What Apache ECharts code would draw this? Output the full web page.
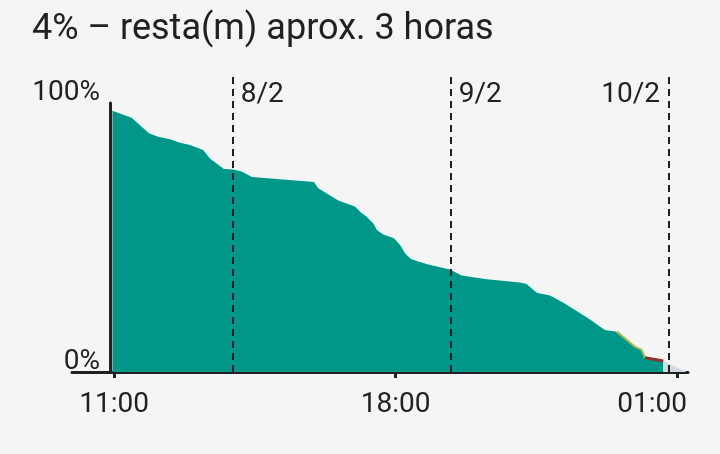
<!DOCTYPE html>
<html>
<head>
<meta charset="utf-8">
<script src="https://cdn.jsdelivr.net/npm/echarts@6/dist/echarts.min.js"></script>
<style>
html,body{margin:0;padding:0;background:#f5f5f5;}
#chart{width:720px;height:454px;}
</style>
</head>
<body>
<div id="chart"></div>
<script>
// ---- data ----
const titleText = '4% \u2013 resta(m) aprox. 3 horas';
const timeHours = [10.955, 11.433, 11.681, 11.870, 12.094, 12.385, 12.634, 12.883, 13.213, 13.380,
  13.586, 13.728, 13.959, 14.168, 14.425, 15.966, 16.073, 16.571, 16.986, 17.135,
  17.277, 17.441, 17.533, 17.690, 17.956, 18.118, 18.230, 18.379, 18.521, 18.809,
  19.349, 19.640, 20.261, 21.090, 21.256, 21.505, 21.836, 22.159, 22.482, 22.806,
  23.203, 23.494, 23.700, 23.949, 24.116, 24.198, 24.653];
const batteryPct = [97.1, 94.5, 91.2, 88.7, 87.5, 86.5, 85.2, 84.4, 82.5, 79.4,
  77.0, 75.5, 75.3, 74.5, 72.5, 70.6, 68.3, 63.8, 61.5, 59.3,
  57.7, 55.3, 52.8, 51.1, 49.7, 47.0, 44.1, 42.0, 41.3, 40.0,
  38.1, 35.9, 34.5, 33.3, 32.7, 29.5, 28.4, 25.8, 22.9, 19.8,
  15.6, 15.0, 12.5, 9.4, 8.2, 5.3, 4.1];
const projectionHours = [24.653, 25.24];
const projectionPct = [4.1, 0];
const lowThreshold = 15;
const criticalThreshold = 5.5;
const dateLineHours = [13.952, 19.374, 24.796];
const dateLabels = ['8/2', '9/2', '10/2'];
const xTickHours = [11, 18, 25];
const xTickLabels = ['11:00', '18:00', '01:00'];
const yTickValues = [0, 100];
const yTickLabels = ['0%', '100%'];

// ---- build ----
const mainData = timeHours.map((h, i) => [h, batteryPct[i]]);
const lowData = mainData.filter(p => p[1] <= lowThreshold);
const critData = mainData.filter(p => p[1] <= criticalThreshold);
const projData = projectionHours.map((h, i) => [h, projectionPct[i]]);

const ink = '#212121';
const font = 'Roboto';
const xMin = 9.95, xMax = 25.27;
const lastTick = xTickHours[xTickHours.length - 1];

const chart = echarts.init(document.getElementById('chart'), null, {renderer: 'canvas'});
chart.setOption({
  backgroundColor: '#f5f5f5',
  animation: false,
  title: {
    text: titleText, left: 32, top: 12, padding: 0,
    textStyle: {fontFamily: font, fontSize: 36, fontWeight: 'normal', color: ink}
  },
  grid: [
    {left: 72, right: 32, top: 103, bottom: 82},
    {left: 72, right: 32, top: 76, bottom: 82}
  ],
  xAxis: [
    {
      type: 'value', gridIndex: 0, min: xMin, max: xMax, offset: 3,
      axisLine: {show: true, lineStyle: {color: ink, width: 3}},
      axisTick: {show: true, length: 6, lineStyle: {color: ink, width: 3}, customValues: xTickHours},
      axisLabel: {
        show: true, customValues: xTickHours, margin: 16,
        fontFamily: font, fontSize: 28, color: ink,
        formatter: v => {
          const t = xTickLabels[xTickHours.indexOf(v)];
          return v === lastTick ? '{last|' + t + '}' : t;
        },
        rich: {
          last: {fontFamily: font, fontSize: 28, color: ink, padding: [0, 50, 0, 0]}
        }
      },
      splitLine: {show: false}
    },
    {type: 'value', gridIndex: 1, min: xMin, max: xMax, show: false}
  ],
  yAxis: [
    {
      type: 'value', gridIndex: 0, min: 0, max: 100, offset: -38,
      axisLine: {show: true, onZero: false, lineStyle: {color: ink, width: 3}},
      axisTick: {show: false},
      axisLabel: {
        show: true, customValues: yTickValues, margin: 10, verticalAlign: 'bottom', lineHeight: 20,
        fontFamily: font, fontSize: 28, color: ink,
        formatter: v => yTickLabels[yTickValues.indexOf(v)]
      },
      splitLine: {show: false}
    },
    {type: 'value', gridIndex: 1, min: 0, max: 1, show: false}
  ],
  series: [
    {
      type: 'line', xAxisIndex: 0, yAxisIndex: 0, data: mainData,
      showSymbol: false, symbol: 'none', lineStyle: {width: 0},
      areaStyle: {color: '#009688', opacity: 1}, z: 2
    },
    {
      type: 'line', xAxisIndex: 0, yAxisIndex: 0, data: projData,
      showSymbol: false, symbol: 'none', lineStyle: {width: 0},
      areaStyle: {color: '#d3d9e0', opacity: 1}, z: 2
    },
    {
      type: 'line', xAxisIndex: 0, yAxisIndex: 0, data: lowData,
      showSymbol: false, symbol: 'none',
      lineStyle: {width: 2, color: '#b0b24f'}, z: 3
    },
    {
      type: 'line', xAxisIndex: 0, yAxisIndex: 0, data: critData,
      showSymbol: false, symbol: 'none',
      lineStyle: {width: 3, color: '#8c2f2f'}, z: 4
    },
    {
      type: 'line', xAxisIndex: 1, yAxisIndex: 1, data: [],
      markLine: {
        silent: true, symbol: ['none', 'none'], animation: false,
        lineStyle: {color: ink, width: 2, type: [7, 5]},
        data: dateLineHours.map((h, i) => ({
          xAxis: h,
          label: {
            show: true, position: 'end', formatter: dateLabels[i],
            distance: -19, verticalAlign: 'middle',
            align: i === dateLineHours.length - 1 ? 'right' : 'left',
            padding: i === dateLineHours.length - 1 ? [0, 9, 0, 0] : [0, 0, 0, 8],
            fontFamily: font, fontSize: 28, color: ink
          }
        }))
      },
      z: 5
    }
  ]
});
</script>
</body>
</html>
